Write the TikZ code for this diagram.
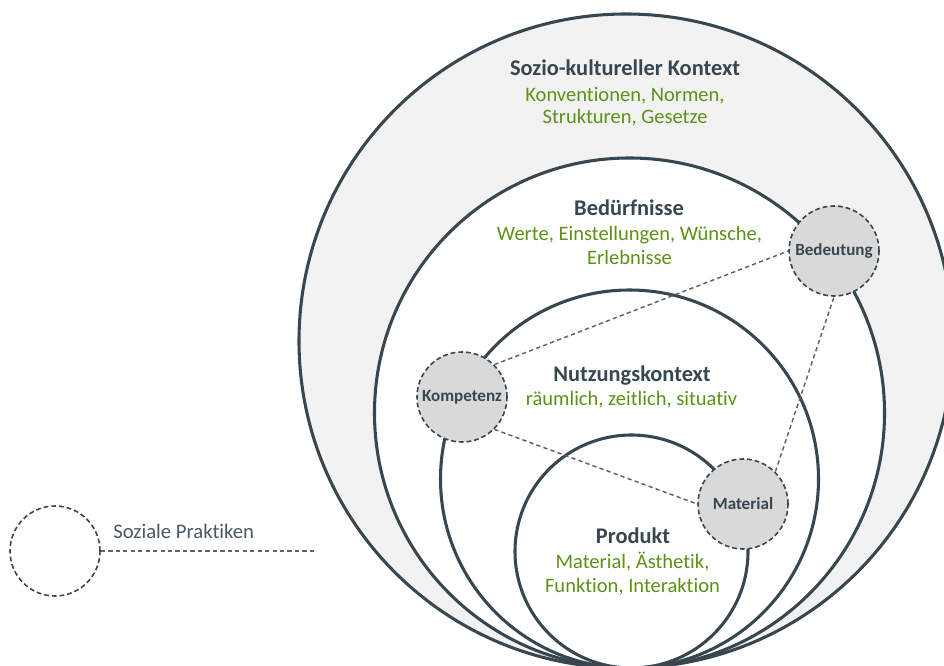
\documentclass[tikz,border=0pt]{standalone}
\usepackage{fontspec}
\setmainfont{Carlito}[Ligatures=NoCommon]
\begin{document}
\definecolor{ink}{RGB}{55,70,79}
\definecolor{leaf}{RGB}{94,145,24}
\definecolor{ringfill}{RGB}{242,242,242}
\definecolor{dotfill}{RGB}{217,217,217}
\definecolor{linkgray}{RGB}{95,100,105}
\definecolor{softink}{RGB}{74,88,98}
\begin{tikzpicture}[x=0.75pt,y=-0.75pt,
  ring/.style={draw=ink,line width=2.3pt},
  dotcircle/.style={circle,draw=ink,fill=dotfill,dash pattern=on 3.6pt off 2.2pt,
    line width=1.2pt,minimum size=67.5pt,inner sep=0pt,
    font=\fontsize{12.8pt}{14pt}\selectfont\bfseries,text=ink},
  link/.style={draw=linkgray,line width=1.1pt,dash pattern=on 3.2pt off 2.4pt},
  head/.style={anchor=base,text=ink,inner sep=0pt,font=\fontsize{16.8pt}{19pt}\selectfont\bfseries},
  sub/.style={anchor=base,text=leaf,inner sep=0pt,font=\fontsize{15.4pt}{18pt}\selectfont}]
\useasboundingbox (0,0) rectangle (944,666);

% nested contexts, all touching at the bottom
\begin{scope}
  \clip (0,0) rectangle (944,666);
  \fill[ringfill] (626,341) circle[radius=245.25pt];
  \fill[white] (629.5,413) circle[radius=191.25pt];
  \draw[ring] (626,341) circle[radius=245.25pt];
  \draw[ring] (629.5,413) circle[radius=191.25pt];
  \draw[ring] (629.5,479) circle[radius=141.75pt];
  \draw[ring] (631.5,551.5) circle[radius=87.375pt];
\end{scope}

% labels of the contexts
\node[head] (sozio) at (625,76) {Sozio-kultureller Kontext};
\node[sub] (sozioA) at (625,101.5) {Konventionen, Normen,};
\node[sub] (sozioB) at (625,124) {Strukturen, Gesetze};

\node[head] (beduerf) at (629,216) {Bedürfnisse};
\node[sub] (beduerfA) at (629.5,241) {Werte, Einstellungen, Wünsche,};
\node[sub] (beduerfB) at (629.5,265) {Erlebnisse};

\node[head] (nutzung) at (632,381) {Nutzungskontext};
\node[sub] (nutzungA) at (631.5,405.5) {räumlich, zeitlich, situativ};

\node[head] (produkt) at (633,543) {Produkt};
\node[sub] (produktA) at (632.5,568) {Material, Ästhetik,};
\node[sub] (produktB) at (632.5,592.5) {Funktion, Interaktion};

% elements of social practice
\node[dotcircle] (bed) at (834,251) {Bedeutung};
\node[dotcircle] (komp) at (462,397) {Kompetenz};
\node[dotcircle] (mat) at (743,504) {Material};

\draw[link] (komp.45) -- (bed.180);
\draw[link] (komp.-45) -- (mat.180);
\draw[link] (mat.45) -- (bed.270);

% legend
\node[circle,draw=ink,dash pattern=on 3.6pt off 2.2pt,line width=1.2pt,
  minimum size=67.5pt,inner sep=0pt] (legcirc) at (55,551) {};
\coordinate (legend) at (317,551);
\draw[link] (legcirc.east) -- (legend);
\node[anchor=base west,inner sep=0pt,text=softink,font=\fontsize{15.5pt}{18pt}\selectfont]
  (legtext) at (113,538) {Soziale Praktiken};
\end{tikzpicture}
\end{document}
